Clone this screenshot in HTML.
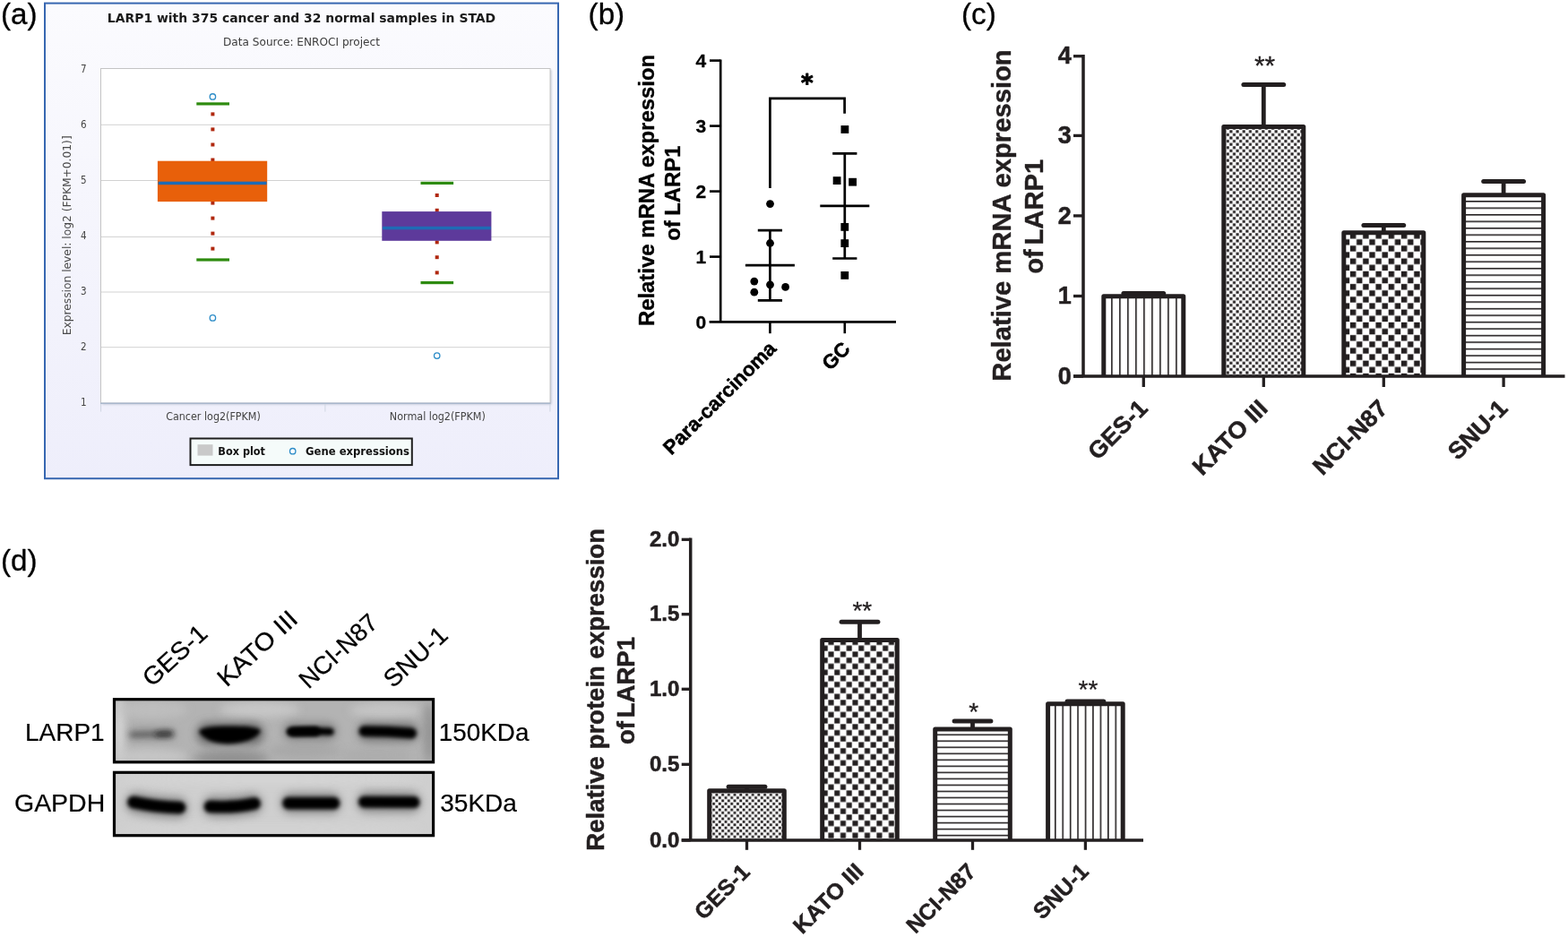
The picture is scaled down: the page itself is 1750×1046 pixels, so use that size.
<!DOCTYPE html>
<html lang="en">
<head>
<meta charset="utf-8">
<title>LARP1 expression figure</title>
<style>
html,body{margin:0;padding:0;background:#fff;}
body{width:1750px;height:1046px;overflow:hidden;}
svg{display:block;}
.dj{font-family:'DejaVu Sans','Liberation Sans',sans-serif;}
.ls{font-family:'Liberation Sans',sans-serif;}
.b{font-weight:bold;}
</style>
</head>
<body>
<svg width="1750" height="1046" viewBox="0 0 1750 1046" role="img" aria-label="LARP1 expression in gastric cancer: box plot, scatter plot, bar charts and western blot">
<defs>

<pattern id="c_v" patternUnits="userSpaceOnUse" x="1240.10" y="0" width="9.000" height="10"><rect width="9.000" height="10" fill="#fff"/><rect x="0" y="0" width="1.6" height="10" fill="#231f20"/></pattern>
<pattern id="c_s" patternUnits="userSpaceOnUse" x="1372.09" y="145.03" width="7.180" height="7.180"><rect width="7.180" height="7.180" fill="#fff"/><rect x="0.270" y="0.270" width="3.050" height="3.050" fill="#231f20"/><rect x="3.860" y="3.860" width="3.050" height="3.050" fill="#231f20"/></pattern>
<pattern id="c_l" patternUnits="userSpaceOnUse" x="1513.66" y="266.76" width="14.260" height="14.260"><rect width="14.260" height="14.260" fill="#fff"/><rect x="0.340" y="0.340" width="6.450" height="6.450" fill="#231f20"/><rect x="7.470" y="7.470" width="6.450" height="6.450" fill="#231f20"/></pattern>
<pattern id="c_h" patternUnits="userSpaceOnUse" x="0" y="224.00" width="10" height="7.490"><rect width="10" height="7.490" fill="#fff"/><rect x="0" y="0" width="10" height="1.6" fill="#231f20"/></pattern>
<pattern id="d_s" patternUnits="userSpaceOnUse" x="798.25" y="885.55" width="6.710" height="6.710"><rect width="6.710" height="6.710" fill="#fff"/><rect x="0.252" y="0.252" width="2.850" height="2.850" fill="#231f20"/><rect x="3.607" y="3.607" width="2.850" height="2.850" fill="#231f20"/></pattern>
<pattern id="d_l" patternUnits="userSpaceOnUse" x="924.15" y="713.58" width="13.480" height="13.480"><rect width="13.480" height="13.480" fill="#fff"/><rect x="0.345" y="0.345" width="6.050" height="6.050" fill="#231f20"/><rect x="7.085" y="7.085" width="6.050" height="6.050" fill="#231f20"/></pattern>
<pattern id="d_h" patternUnits="userSpaceOnUse" x="0" y="819.45" width="10" height="7.020"><rect width="10" height="7.020" fill="#fff"/><rect x="0" y="0" width="10" height="1.6" fill="#231f20"/></pattern>
<pattern id="d_v" patternUnits="userSpaceOnUse" x="1176.95" y="0" width="8.440" height="10"><rect width="8.440" height="10" fill="#fff"/><rect x="0" y="0" width="1.6" height="10" fill="#231f20"/></pattern>
<linearGradient id="frameBg" x1="0" y1="0" x2="0" y2="1">
<stop offset="0" stop-color="#fbfbfe"/><stop offset="1" stop-color="#eeeefb"/></linearGradient>
<linearGradient id="blot1" x1="0" y1="0" x2="1" y2="1">
<stop offset="0" stop-color="#c9c9c9"/><stop offset="0.5" stop-color="#bcbcbc"/><stop offset="1" stop-color="#a6a6a6"/></linearGradient>
<linearGradient id="blot2" x1="0" y1="0" x2="1" y2="0">
<stop offset="0" stop-color="#cdcdcd"/><stop offset="0.5" stop-color="#d3d3d3"/><stop offset="1" stop-color="#cfcfcf"/></linearGradient>
<filter id="bl2" filterUnits="userSpaceOnUse" x="100" y="760" width="420" height="200"><feGaussianBlur stdDeviation="1.9"/></filter>
<filter id="bl3" filterUnits="userSpaceOnUse" x="100" y="760" width="420" height="200"><feGaussianBlur stdDeviation="3"/></filter>
<filter id="bl6" filterUnits="userSpaceOnUse" x="100" y="760" width="420" height="200"><feGaussianBlur stdDeviation="5"/></filter>
<filter id="sh" x="-5%" y="-5%" width="110%" height="110%"><feGaussianBlur stdDeviation="1.2"/></filter>
<clipPath id="clipB1"><rect x="127.4" y="780.6" width="356.2" height="70"/></clipPath>
<clipPath id="clipB2"><rect x="127.4" y="862.2" width="356.2" height="70.5"/></clipPath>
</defs>

<g id="panel-a">
<text x="1.0" y="27.0" class="ls" font-size="32.5" fill="#000" textLength="40.6" lengthAdjust="spacingAndGlyphs" stroke="#000" stroke-width="0.3" stroke-linejoin="round">(a)</text>
<rect x="50" y="3.6" width="573" height="530.6" fill="url(#frameBg)" stroke="#3767b1" stroke-width="2"/>
<rect x="114" y="78" width="501.5" height="373.5" fill="#9aa3b5" opacity="0.55" filter="url(#sh)"/>
<rect x="112.5" y="76.5" width="501.5" height="373.5" fill="#fff" stroke="#c4c4c4" stroke-width="1"/>
<line x1="113" y1="139.3" x2="614" y2="139.3" stroke="#d2d2d2" stroke-width="1"/>
<line x1="113" y1="201.5" x2="614" y2="201.5" stroke="#d2d2d2" stroke-width="1"/>
<line x1="113" y1="264.4" x2="614" y2="264.4" stroke="#d2d2d2" stroke-width="1"/>
<line x1="113" y1="326.0" x2="614" y2="326.0" stroke="#d2d2d2" stroke-width="1"/>
<line x1="113" y1="387.7" x2="614" y2="387.7" stroke="#d2d2d2" stroke-width="1"/>
<line x1="112" y1="450.3" x2="614.5" y2="450.3" stroke="#a9b8cd" stroke-width="1.6"/>
<line x1="112.6" y1="451" x2="112.6" y2="459.6" stroke="#cfd6e2" stroke-width="1"/>
<line x1="362.9" y1="451" x2="362.9" y2="459.6" stroke="#cfd6e2" stroke-width="1"/>
<line x1="613.9" y1="451" x2="613.9" y2="459.6" stroke="#cfd6e2" stroke-width="1"/>
<text x="336.5" y="25.1" class="dj b" font-size="14" fill="#1a1a1a" text-anchor="middle" textLength="433.4" lengthAdjust="spacingAndGlyphs">LARP1 with 375 cancer and 32 normal samples in STAD</text>
<text x="336.5" y="50.9" class="dj" font-size="12" fill="#3c3c3c" text-anchor="middle" textLength="175" lengthAdjust="spacingAndGlyphs">Data Source: ENROCI project</text>
<text x="96.6" y="80.8" class="dj" font-size="12" fill="#444" text-anchor="end" textLength="6.6" lengthAdjust="spacingAndGlyphs">7</text>
<text x="96.6" y="142.7" class="dj" font-size="12" fill="#444" text-anchor="end" textLength="6.6" lengthAdjust="spacingAndGlyphs">6</text>
<text x="96.6" y="204.7" class="dj" font-size="12" fill="#444" text-anchor="end" textLength="6.6" lengthAdjust="spacingAndGlyphs">5</text>
<text x="96.6" y="266.7" class="dj" font-size="12" fill="#444" text-anchor="end" textLength="6.6" lengthAdjust="spacingAndGlyphs">4</text>
<text x="96.6" y="328.7" class="dj" font-size="12" fill="#444" text-anchor="end" textLength="6.6" lengthAdjust="spacingAndGlyphs">3</text>
<text x="96.6" y="390.6" class="dj" font-size="12" fill="#444" text-anchor="end" textLength="6.6" lengthAdjust="spacingAndGlyphs">2</text>
<text x="96.6" y="452.6" class="dj" font-size="12" fill="#444" text-anchor="end" textLength="6.6" lengthAdjust="spacingAndGlyphs">1</text>
<text x="79.0" y="262.8" class="dj" font-size="12" fill="#4a4a4a" text-anchor="middle" transform="rotate(-90 79.0 262.8)" textLength="223" lengthAdjust="spacingAndGlyphs">Expression level: log2 (FPKM+0.01)]</text>
<text x="238" y="469.2" class="dj" font-size="12" fill="#444" text-anchor="middle" textLength="105.6" lengthAdjust="spacingAndGlyphs">Cancer log2(FPKM)</text>
<text x="488.3" y="469.2" class="dj" font-size="12" fill="#444" text-anchor="middle" textLength="107" lengthAdjust="spacingAndGlyphs">Normal log2(FPKM)</text>
<rect x="235.4" y="125.4" width="4" height="4" fill="#b0280f"/>
<rect x="235.4" y="142.4" width="4" height="4" fill="#b0280f"/>
<rect x="235.4" y="159.5" width="4" height="4" fill="#b0280f"/>
<rect x="235.4" y="176.5" width="4" height="4" fill="#b0280f"/>
<rect x="235.4" y="224.6" width="4" height="4" fill="#b0280f"/>
<rect x="235.4" y="241.6" width="4" height="4" fill="#b0280f"/>
<rect x="235.4" y="258.6" width="4" height="4" fill="#b0280f"/>
<rect x="235.4" y="275.6" width="4" height="4" fill="#b0280f"/>
<rect x="485.7" y="216.0" width="4" height="4" fill="#b0280f"/>
<rect x="485.7" y="232.8" width="4" height="4" fill="#b0280f"/>
<rect x="485.7" y="268.4" width="4" height="4" fill="#b0280f"/>
<rect x="485.7" y="285.2" width="4" height="4" fill="#b0280f"/>
<rect x="485.7" y="302.4" width="4" height="4" fill="#b0280f"/>
<rect x="175.9" y="179.7" width="122.3" height="45.4" fill="#e8600a"/>
<rect x="176.6" y="202.7" width="121" height="3.5" fill="#1f6bb5"/>
<rect x="426.3" y="236.1" width="122.1" height="32.7" fill="#5d3a9b"/>
<rect x="427" y="252.8" width="120.7" height="3.5" fill="#1f6bb5"/>
<rect x="219.3" y="114.3" width="36.7" height="3.2" fill="#2e8b0f"/>
<rect x="219.3" y="288.4" width="36.7" height="3.2" fill="#2e8b0f"/>
<rect x="469.5" y="202.8" width="36.6" height="3.2" fill="#2e8b0f"/>
<rect x="469.5" y="314.0" width="36.6" height="3.2" fill="#2e8b0f"/>
<circle cx="237.4" cy="107.9" r="3.2" fill="#fff" stroke="#2e8dc8" stroke-width="1.35"/>
<circle cx="237.4" cy="354.9" r="3.2" fill="#fff" stroke="#2e8dc8" stroke-width="1.35"/>
<circle cx="487.7" cy="397.1" r="3.2" fill="#fff" stroke="#2e8dc8" stroke-width="1.35"/>
<rect x="212.5" y="489.5" width="247.3" height="29.6" fill="#f5fbfa" stroke="#1e1e1e" stroke-width="2"/>
<rect x="220.5" y="496.2" width="17" height="12.4" fill="#c9c9c9"/>
<text x="243.3" y="507.5" class="dj b" font-size="12" fill="#111" textLength="52.7" lengthAdjust="spacingAndGlyphs">Box plot</text>
<circle cx="326.7" cy="503.7" r="3.2" fill="#fff" stroke="#2e8dc8" stroke-width="1.35"/>
<text x="341" y="507.5" class="dj b" font-size="12" fill="#111" textLength="116" lengthAdjust="spacingAndGlyphs">Gene expressions</text>
</g>
<g id="panel-b" stroke-linecap="butt">
<text x="656.6" y="26.8" class="ls" font-size="32.5" fill="#000" textLength="40.6" lengthAdjust="spacingAndGlyphs" stroke="#000" stroke-width="0.3" stroke-linejoin="round">(b)</text>
<path d="M804.2 66.5 V359.4 M791.6 359.4 H1000" fill="none" stroke="#000" stroke-width="2.6"/>
<text x="788.2" y="367.1" class="ls b" font-size="21" fill="#000" text-anchor="end" stroke="#000" stroke-width="0.3" stroke-linejoin="round">0</text>
<line x1="792" y1="286.6" x2="804.2" y2="286.6" stroke="#000" stroke-width="2.6"/>
<text x="788.2" y="294.20000000000005" class="ls b" font-size="21" fill="#000" text-anchor="end" stroke="#000" stroke-width="0.3" stroke-linejoin="round">1</text>
<line x1="792" y1="213.6" x2="804.2" y2="213.6" stroke="#000" stroke-width="2.6"/>
<text x="788.2" y="221.2" class="ls b" font-size="21" fill="#000" text-anchor="end" stroke="#000" stroke-width="0.3" stroke-linejoin="round">2</text>
<line x1="792" y1="140.6" x2="804.2" y2="140.6" stroke="#000" stroke-width="2.6"/>
<text x="788.2" y="148.2" class="ls b" font-size="21" fill="#000" text-anchor="end" stroke="#000" stroke-width="0.3" stroke-linejoin="round">3</text>
<line x1="792" y1="67.6" x2="804.2" y2="67.6" stroke="#000" stroke-width="2.6"/>
<text x="788.2" y="75.19999999999999" class="ls b" font-size="21" fill="#000" text-anchor="end" stroke="#000" stroke-width="0.3" stroke-linejoin="round">4</text>
<line x1="859.4" y1="359.4" x2="859.4" y2="372.2" stroke="#000" stroke-width="2.6"/>
<line x1="942.8" y1="359.4" x2="942.8" y2="372.2" stroke="#000" stroke-width="2.6"/>
<text x="729.7" y="212.5" class="ls b" font-size="23.9" fill="#000" text-anchor="middle" transform="rotate(-90 729.7 212.5)" stroke="#000" stroke-width="0.35" stroke-linejoin="round">Relative mRNA expression</text>
<text x="759.2" y="215.6" class="ls b" font-size="23.9" fill="#000" text-anchor="middle" transform="rotate(-90 759.2 215.6)" style="word-spacing:-1.2px" stroke="#000" stroke-width="0.35" stroke-linejoin="round">of LARP1</text>
<text x="867.6" y="390.4" class="ls b" font-size="22.3" fill="#000" text-anchor="end" transform="rotate(-45 867.6 390.4)" stroke="#000" stroke-width="0.5" stroke-linejoin="round">Para-carcinoma</text>
<text x="950.1" y="390.8" class="ls b" font-size="22.3" fill="#000" text-anchor="end" transform="rotate(-45 950.1 390.8)" stroke="#000" stroke-width="0.5" stroke-linejoin="round">GC</text>
<path d="M859.4 210.1 V109.8 H942.6 V126.8" fill="none" stroke="#000" stroke-width="2.7"/>
<text x="900.8" y="102.4" class="dj b" font-size="26" fill="#000" text-anchor="middle" stroke="#000" stroke-width="1.0" stroke-linejoin="round">*</text>
<path d="M831.9 296.1 H886.9 M845.8 257.1 H873.0 M845.8 335.4 H873.0 M859.4 257.1 V335.4" fill="none" stroke="#000" stroke-width="2.7"/>
<path d="M915.3 229.9 H970.3 M929.1999999999999 171.4 H956.4 M929.1999999999999 288.5 H956.4 M942.8 171.4 V288.5" fill="none" stroke="#000" stroke-width="2.7"/>
<circle cx="859.5" cy="227.6" r="4.4" fill="#000"/>
<circle cx="859.5" cy="271.5" r="4.4" fill="#000"/>
<circle cx="841.8" cy="314.1" r="4.4" fill="#000"/>
<circle cx="859.5" cy="317.8" r="4.4" fill="#000"/>
<circle cx="876.6" cy="320.4" r="4.4" fill="#000"/>
<circle cx="841.8" cy="326.2" r="4.4" fill="#000"/>
<rect x="938.5" y="140.1" width="8.8" height="8.8" fill="#000"/>
<rect x="929.7" y="197.2" width="8.8" height="8.8" fill="#000"/>
<rect x="947.2" y="198.8" width="8.8" height="8.8" fill="#000"/>
<rect x="938.4" y="249.0" width="8.8" height="8.8" fill="#000"/>
<rect x="938.4" y="267.2" width="8.8" height="8.8" fill="#000"/>
<rect x="938.4" y="303.0" width="8.8" height="8.8" fill="#000"/>
</g>
<text x="1073.0" y="27.0" class="ls" font-size="32.5" fill="#000" textLength="38.8" lengthAdjust="spacingAndGlyphs" stroke="#000" stroke-width="0.3" stroke-linejoin="round">(c)</text>
<g id="panel-c">
<rect x="1231.8" y="330.8" width="89.0" height="89.2" fill="url(#c_v)"/>
<path d="M1276.3 330.8 V327.6" fill="none" stroke="#231f20" stroke-width="4.8"/>
<path d="M1253.9 327.6 H1298.7" fill="none" stroke="#231f20" stroke-width="5" stroke-linecap="round"/>
<path d="M1231.8 420.0 V330.8 H1320.8 V420.0" fill="none" stroke="#231f20" stroke-width="5" stroke-linejoin="round"/>
<rect x="1365.8" y="141.6" width="89.0" height="278.4" fill="url(#c_s)"/>
<path d="M1410.3 141.6 V94.6" fill="none" stroke="#231f20" stroke-width="4.8"/>
<path d="M1387.9 94.6 H1432.7" fill="none" stroke="#231f20" stroke-width="5" stroke-linecap="round"/>
<path d="M1365.8 420.0 V141.6 H1454.8 V420.0" fill="none" stroke="#231f20" stroke-width="5" stroke-linejoin="round"/>
<rect x="1499.8" y="259.7" width="89.0" height="160.3" fill="url(#c_l)"/>
<path d="M1544.3 259.7 V251.6" fill="none" stroke="#231f20" stroke-width="4.8"/>
<path d="M1521.9 251.6 H1566.7" fill="none" stroke="#231f20" stroke-width="5" stroke-linecap="round"/>
<path d="M1499.8 420.0 V259.7 H1588.8 V420.0" fill="none" stroke="#231f20" stroke-width="5" stroke-linejoin="round"/>
<rect x="1633.6" y="217.7" width="89.0" height="202.3" fill="url(#c_h)"/>
<path d="M1678.1 217.7 V202.4" fill="none" stroke="#231f20" stroke-width="4.8"/>
<path d="M1655.7 202.4 H1700.5" fill="none" stroke="#231f20" stroke-width="5" stroke-linecap="round"/>
<path d="M1633.6 420.0 V217.7 H1722.6 V420.0" fill="none" stroke="#231f20" stroke-width="5" stroke-linejoin="round"/>
<path d="M1209.0 61.0 V420.0 M1198.0 420.0 H1746.5" fill="none" stroke="#231f20" stroke-width="3.5"/>
<line x1="1198.0" y1="420.0" x2="1209.0" y2="420.0" stroke="#231f20" stroke-width="3.3"/>
<text x="1195.7" y="428.7" class="ls b" font-size="27.0" fill="#231f20" text-anchor="end" stroke="#231f20" stroke-width="0.55" stroke-linejoin="round">0</text>
<line x1="1198.0" y1="330.5" x2="1209.0" y2="330.5" stroke="#231f20" stroke-width="3.3"/>
<text x="1195.7" y="339.2" class="ls b" font-size="27.0" fill="#231f20" text-anchor="end" stroke="#231f20" stroke-width="0.55" stroke-linejoin="round">1</text>
<line x1="1198.0" y1="240.9" x2="1209.0" y2="240.9" stroke="#231f20" stroke-width="3.3"/>
<text x="1195.7" y="249.6" class="ls b" font-size="27.0" fill="#231f20" text-anchor="end" stroke="#231f20" stroke-width="0.55" stroke-linejoin="round">2</text>
<line x1="1198.0" y1="151.4" x2="1209.0" y2="151.4" stroke="#231f20" stroke-width="3.3"/>
<text x="1195.7" y="160.1" class="ls b" font-size="27.0" fill="#231f20" text-anchor="end" stroke="#231f20" stroke-width="0.55" stroke-linejoin="round">3</text>
<line x1="1198.0" y1="62.7" x2="1209.0" y2="62.7" stroke="#231f20" stroke-width="3.3"/>
<text x="1195.7" y="71.4" class="ls b" font-size="27.0" fill="#231f20" text-anchor="end" stroke="#231f20" stroke-width="0.55" stroke-linejoin="round">4</text>
<line x1="1276.3" y1="420.0" x2="1276.3" y2="432" stroke="#231f20" stroke-width="3.3"/>
<line x1="1410.3" y1="420.0" x2="1410.3" y2="432" stroke="#231f20" stroke-width="3.3"/>
<line x1="1544.3" y1="420.0" x2="1544.3" y2="432" stroke="#231f20" stroke-width="3.3"/>
<line x1="1678.1" y1="420.0" x2="1678.1" y2="432" stroke="#231f20" stroke-width="3.3"/>
<text x="1282.3" y="457.4" class="ls b" font-size="26.5" fill="#231f20" text-anchor="end" transform="rotate(-45 1282.3 457.4)" textLength="81" lengthAdjust="spacingAndGlyphs" stroke="#231f20" stroke-width="0.5" stroke-linejoin="round">GES-1</text>
<text x="1416.3" y="457.4" class="ls b" font-size="26.5" fill="#231f20" text-anchor="end" transform="rotate(-45 1416.3 457.4)" textLength="105.5" lengthAdjust="spacingAndGlyphs" stroke="#231f20" stroke-width="0.5" stroke-linejoin="round">KATO III</text>
<text x="1550.3" y="457.4" class="ls b" font-size="26.5" fill="#231f20" text-anchor="end" transform="rotate(-45 1550.3 457.4)" textLength="105" lengthAdjust="spacingAndGlyphs" stroke="#231f20" stroke-width="0.5" stroke-linejoin="round">NCI-N87</text>
<text x="1684.1" y="457.4" class="ls b" font-size="26.5" fill="#231f20" text-anchor="end" transform="rotate(-45 1684.1 457.4)" textLength="81" lengthAdjust="spacingAndGlyphs" stroke="#231f20" stroke-width="0.5" stroke-linejoin="round">SNU-1</text>
</g>
<text x="1127.7" y="240.5" class="ls b" font-size="29.2" fill="#231f20" text-anchor="middle" transform="rotate(-90 1127.7 240.5)" stroke="#231f20" stroke-width="0.4" stroke-linejoin="round">Relative mRNA expression</text>
<text x="1164.0" y="241.8" class="ls b" font-size="29.2" fill="#231f20" text-anchor="middle" transform="rotate(-90 1164.0 241.8)" style="word-spacing:-3.3px" stroke="#231f20" stroke-width="0.4" stroke-linejoin="round">of LARP1</text>
<text x="1411.6" y="83.0" class="ls" font-size="30" fill="#231f20" text-anchor="middle" stroke="#231f20" stroke-width="0.3" stroke-linejoin="round">**</text>
<g id="panel-d">
<text x="1.0" y="637.4" class="ls" font-size="32.5" fill="#000" textLength="40.6" lengthAdjust="spacingAndGlyphs" stroke="#000" stroke-width="0.3" stroke-linejoin="round">(d)</text>
<text x="169.5" y="767.8" class="ls" font-size="27.7" fill="#000" transform="rotate(-42.5 169.5 767.8)" textLength="86.6" lengthAdjust="spacingAndGlyphs" stroke="#000" stroke-width="0.25" stroke-linejoin="round">GES-1</text>
<text x="252.9" y="767.8" class="ls" font-size="27.7" fill="#000" transform="rotate(-42.5 252.9 767.8)" textLength="110" lengthAdjust="spacingAndGlyphs" stroke="#000" stroke-width="0.25" stroke-linejoin="round">KATO III</text>
<text x="344.2" y="770.0" class="ls" font-size="27.7" fill="#000" transform="rotate(-42.5 344.2 770.0)" stroke="#000" stroke-width="0.25" stroke-linejoin="round">NCI-N87</text>
<text x="438.6" y="769.0" class="ls" font-size="27.7" fill="#000" transform="rotate(-42.5 438.6 769.0)" textLength="85.5" lengthAdjust="spacingAndGlyphs" stroke="#000" stroke-width="0.25" stroke-linejoin="round">SNU-1</text>
<text x="116.6" y="827.2" class="ls" font-size="27.5" fill="#000" text-anchor="end" textLength="88.6" lengthAdjust="spacingAndGlyphs" stroke="#000" stroke-width="0.2" stroke-linejoin="round">LARP1</text>
<text x="117.2" y="905.5" class="ls" font-size="27.5" fill="#000" text-anchor="end" textLength="101.2" lengthAdjust="spacingAndGlyphs" stroke="#000" stroke-width="0.2" stroke-linejoin="round">GAPDH</text>
<text x="489.8" y="826.6" class="ls" font-size="27.5" fill="#000" textLength="100.6" lengthAdjust="spacingAndGlyphs" stroke="#000" stroke-width="0.2" stroke-linejoin="round">150KDa</text>
<text x="491.2" y="905.5" class="ls" font-size="27.5" fill="#000" textLength="85.8" lengthAdjust="spacingAndGlyphs" stroke="#000" stroke-width="0.2" stroke-linejoin="round">35KDa</text>
<rect x="127.4" y="780.6" width="356.2" height="70" fill="#b3b3b3"/>
<g clip-path="url(#clipB1)">
<ellipse cx="133" cy="815" rx="7" ry="40" fill="#d6d6d6" opacity="0.9" filter="url(#bl6)"/>
<ellipse cx="165" cy="845" rx="45" ry="9" fill="#cacaca" opacity="0.8" filter="url(#bl6)"/>
<ellipse cx="170" cy="792" rx="40" ry="10" fill="#c2c2c2" opacity="0.7" filter="url(#bl6)"/>
<ellipse cx="290" cy="792" rx="45" ry="9" fill="#c9c9c9" opacity="0.9" filter="url(#bl6)"/>
<ellipse cx="430" cy="793" rx="40" ry="9" fill="#c6c6c6" opacity="0.9" filter="url(#bl6)"/>
<ellipse cx="258" cy="846" rx="42" ry="8" fill="#8c8c8c" opacity="0.9" filter="url(#bl6)"/>
<ellipse cx="340" cy="838" rx="40" ry="8" fill="#a0a0a0" opacity="0.6" filter="url(#bl6)"/>
<ellipse cx="479" cy="818" rx="6" ry="34" fill="#8e8e8e" opacity="0.9" filter="url(#bl6)"/>
<ellipse cx="420" cy="843" rx="40" ry="7" fill="#a8a8a8" opacity="0.6" filter="url(#bl6)"/>
<path d="M150 819.6 L190 819.4" fill="none" stroke="#808080" stroke-width="14" stroke-linecap="round" opacity="0.55" filter="url(#bl6)"/>
<path d="M232 819 L282 819" fill="none" stroke="#5a5a5a" stroke-width="26" stroke-linecap="round" opacity="0.75" filter="url(#bl6)"/>
<path d="M326 816.5 L366 816.5" fill="none" stroke="#6a6a6a" stroke-width="20" stroke-linecap="round" opacity="0.65" filter="url(#bl6)"/>
<path d="M410 817 L456 817.5" fill="none" stroke="#606060" stroke-width="22" stroke-linecap="round" opacity="0.7" filter="url(#bl6)"/>
<path d="M147 820.2 L190 819.2" fill="none" stroke="#4a4a4a" stroke-width="4.6" stroke-linecap="round" opacity="0.9" filter="url(#bl3)"/>
<path d="M176 819.6 L190.5 819.1" fill="none" stroke="#1c1c1c" stroke-width="5.2" stroke-linecap="round" opacity="0.85" filter="url(#bl3)"/>
<path d="M222 816.6 C225 811 240 810.6 256 810.6 C272 810.6 287 811 291 815.6 C289 823 275 830.4 254 830.4 C237 830.4 225 824 222 816.6 Z" fill="#000" opacity="1" filter="url(#bl2)"/>
<path d="M324 816.8 Q342 815.4 368.5 816.8" fill="none" stroke="#000" stroke-width="8.6" stroke-linecap="round" opacity="1" filter="url(#bl2)"/>
<path d="M327 817 L352 816.6" fill="none" stroke="#000" stroke-width="10.6" stroke-linecap="round" opacity="1" filter="url(#bl2)"/>
<path d="M406.5 816.3 Q432 816.3 459 818.6" fill="none" stroke="#000" stroke-width="12" stroke-linecap="round" opacity="1" filter="url(#bl2)"/>
</g>
<rect x="127.5" y="780.7" width="356.1" height="70.1" fill="none" stroke="#000" stroke-width="3.2"/>
<rect x="127.4" y="862.2" width="356.2" height="70.5" fill="#cfcfcf"/>
<g clip-path="url(#clipB2)">
<ellipse cx="300" cy="870" rx="170" ry="6" fill="#d6d6d6" opacity="0.8" filter="url(#bl6)"/>
<ellipse cx="300" cy="926" rx="170" ry="6" fill="#d4d4d4" opacity="0.8" filter="url(#bl6)"/>
<path d="M152 896.5 Q175 901 198 901.5" fill="none" stroke="#707070" stroke-width="24" stroke-linecap="round" opacity="0.7" filter="url(#bl6)"/>
<path d="M238 900.3 Q260 901.5 281 897.5" fill="none" stroke="#707070" stroke-width="24" stroke-linecap="round" opacity="0.7" filter="url(#bl6)"/>
<path d="M325 896.5 L369 896.5" fill="none" stroke="#707070" stroke-width="24" stroke-linecap="round" opacity="0.7" filter="url(#bl6)"/>
<path d="M410 895.3 L458 895.5" fill="none" stroke="#707070" stroke-width="24" stroke-linecap="round" opacity="0.7" filter="url(#bl6)"/>
<path d="M149 895.5 Q172 900.5 200.5 901.6" fill="none" stroke="#000" stroke-width="13.6" stroke-linecap="round" opacity="1" filter="url(#bl2)"/>
<path d="M234.5 900.4 Q260 902 284 897" fill="none" stroke="#000" stroke-width="13.6" stroke-linecap="round" opacity="1" filter="url(#bl2)"/>
<path d="M322 896.6 L372.5 896.6" fill="none" stroke="#000" stroke-width="13.6" stroke-linecap="round" opacity="1" filter="url(#bl2)"/>
<path d="M406.5 895.2 L462 895.6" fill="none" stroke="#000" stroke-width="13" stroke-linecap="round" opacity="1" filter="url(#bl2)"/>
</g>
<rect x="127.5" y="862.3" width="356.1" height="70.4" fill="none" stroke="#000" stroke-width="3.2"/>
</g>
<g id="panel-d-chart">
<rect x="791.7" y="882.7" width="83.6" height="55.2" fill="url(#d_s)"/>
<path d="M833.5 882.7 V878.3" fill="none" stroke="#231f20" stroke-width="4.8"/>
<path d="M813.1 878.3 H853.9" fill="none" stroke="#231f20" stroke-width="5" stroke-linecap="round"/>
<path d="M791.7 937.9 V882.7 H875.3 V937.9" fill="none" stroke="#231f20" stroke-width="5" stroke-linejoin="round"/>
<rect x="917.7" y="714.6" width="83.6" height="223.3" fill="url(#d_l)"/>
<path d="M959.5 714.6 V694.3" fill="none" stroke="#231f20" stroke-width="4.8"/>
<path d="M939.1 694.3 H979.9" fill="none" stroke="#231f20" stroke-width="5" stroke-linecap="round"/>
<path d="M917.7 937.9 V714.6 H1001.3 V937.9" fill="none" stroke="#231f20" stroke-width="5" stroke-linejoin="round"/>
<rect x="1043.7" y="813.9" width="83.6" height="124.0" fill="url(#d_h)"/>
<path d="M1085.5 813.9 V805.0" fill="none" stroke="#231f20" stroke-width="4.8"/>
<path d="M1065.1 805.0 H1105.9" fill="none" stroke="#231f20" stroke-width="5" stroke-linecap="round"/>
<path d="M1043.7 937.9 V813.9 H1127.3 V937.9" fill="none" stroke="#231f20" stroke-width="5" stroke-linejoin="round"/>
<rect x="1169.6" y="785.8" width="83.6" height="152.1" fill="url(#d_v)"/>
<path d="M1211.4 785.8 V783.0" fill="none" stroke="#231f20" stroke-width="4.8"/>
<path d="M1191.0 783.0 H1231.8" fill="none" stroke="#231f20" stroke-width="5" stroke-linecap="round"/>
<path d="M1169.6 937.9 V785.8 H1253.2 V937.9" fill="none" stroke="#231f20" stroke-width="5" stroke-linejoin="round"/>
<path d="M770.7 600.5 V937.9 M760.7 937.9 H1276" fill="none" stroke="#231f20" stroke-width="3.5"/>
<line x1="760.7" y1="937.9" x2="770.7" y2="937.9" stroke="#231f20" stroke-width="3.3"/>
<text x="758.4000000000001" y="945.5" class="ls b" font-size="24" fill="#231f20" text-anchor="end" stroke="#231f20" stroke-width="0.55" stroke-linejoin="round">0.0</text>
<line x1="760.7" y1="853.3" x2="770.7" y2="853.3" stroke="#231f20" stroke-width="3.3"/>
<text x="758.4000000000001" y="860.9" class="ls b" font-size="24" fill="#231f20" text-anchor="end" stroke="#231f20" stroke-width="0.55" stroke-linejoin="round">0.5</text>
<line x1="760.7" y1="769.3" x2="770.7" y2="769.3" stroke="#231f20" stroke-width="3.3"/>
<text x="758.4000000000001" y="776.9" class="ls b" font-size="24" fill="#231f20" text-anchor="end" stroke="#231f20" stroke-width="0.55" stroke-linejoin="round">1.0</text>
<line x1="760.7" y1="685.7" x2="770.7" y2="685.7" stroke="#231f20" stroke-width="3.3"/>
<text x="758.4000000000001" y="693.3" class="ls b" font-size="24" fill="#231f20" text-anchor="end" stroke="#231f20" stroke-width="0.55" stroke-linejoin="round">1.5</text>
<line x1="760.7" y1="602.3" x2="770.7" y2="602.3" stroke="#231f20" stroke-width="3.3"/>
<text x="758.4000000000001" y="609.9" class="ls b" font-size="24" fill="#231f20" text-anchor="end" stroke="#231f20" stroke-width="0.55" stroke-linejoin="round">2.0</text>
<line x1="833.5" y1="937.9" x2="833.5" y2="948.8" stroke="#231f20" stroke-width="3.3"/>
<line x1="959.5" y1="937.9" x2="959.5" y2="948.8" stroke="#231f20" stroke-width="3.3"/>
<line x1="1085.5" y1="937.9" x2="1085.5" y2="948.8" stroke="#231f20" stroke-width="3.3"/>
<line x1="1211.4" y1="937.9" x2="1211.4" y2="948.8" stroke="#231f20" stroke-width="3.3"/>
<text x="838.3" y="974.9" class="ls b" font-size="25" fill="#231f20" text-anchor="end" transform="rotate(-45 838.3 974.9)" stroke="#231f20" stroke-width="0.5" stroke-linejoin="round">GES-1</text>
<text x="965.2" y="974.1" class="ls b" font-size="25" fill="#231f20" text-anchor="end" transform="rotate(-45 965.2 974.1)" textLength="98.5" lengthAdjust="spacingAndGlyphs" stroke="#231f20" stroke-width="0.5" stroke-linejoin="round">KATO III</text>
<text x="1090.5" y="974.4" class="ls b" font-size="25" fill="#231f20" text-anchor="end" transform="rotate(-45 1090.5 974.4)" stroke="#231f20" stroke-width="0.5" stroke-linejoin="round">NCI-N87</text>
<text x="1216.4" y="974.4" class="ls b" font-size="25" fill="#231f20" text-anchor="end" transform="rotate(-45 1216.4 974.4)" stroke="#231f20" stroke-width="0.5" stroke-linejoin="round">SNU-1</text>
</g>
<text x="673.7" y="769.85" class="ls b" font-size="27.55" fill="#231f20" text-anchor="middle" transform="rotate(-90 673.7 769.85)" stroke="#231f20" stroke-width="0.5" stroke-linejoin="round">Relative protein expression</text>
<text x="707.7" y="771.0" class="ls b" font-size="27.55" fill="#231f20" text-anchor="middle" transform="rotate(-90 707.7 771.0)" style="word-spacing:-3.9px" stroke="#231f20" stroke-width="0.5" stroke-linejoin="round">of LARP1</text>
<text x="962.3" y="691" class="ls" font-size="28" fill="#231f20" text-anchor="middle" stroke="#231f20" stroke-width="0.3" stroke-linejoin="round">**</text>
<text x="1086.8" y="804.2" class="ls" font-size="28" fill="#231f20" text-anchor="middle" stroke="#231f20" stroke-width="0.3" stroke-linejoin="round">*</text>
<text x="1214.4" y="779" class="ls" font-size="28" fill="#231f20" text-anchor="middle" stroke="#231f20" stroke-width="0.3" stroke-linejoin="round">**</text>
</svg>
</body>
</html>
